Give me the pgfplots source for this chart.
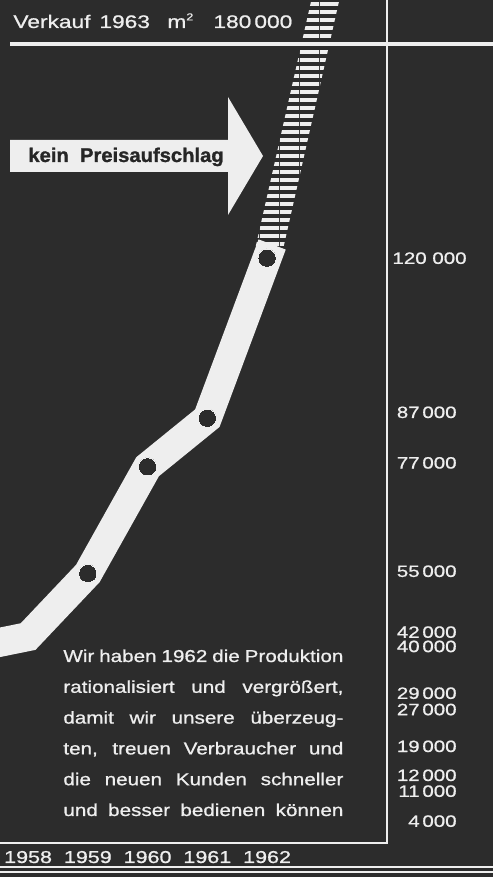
\documentclass[border=0pt]{standalone}
\usepackage{fontspec}
\setmainfont{Liberation Sans}[FakeStretch=1.25, FakeBold=0.9]
\newfontfamily\bodyfont{Liberation Sans}[FakeStretch=1.2, FakeBold=0.9]
\newfontfamily\arrowfont{Liberation Sans Bold}[FakeStretch=1.02, FakeBold=1.2]
\usepackage{pgfplots}
\pgfplotsset{compat=1.18}
\usetikzlibrary{patterns}
\definecolor{bgdark}{RGB}{44,44,44}
\definecolor{ink}{RGB}{238,238,238}

\pgfdeclarepatternformonly{hstripes}{\pgfpoint{0pt}{0pt}}{\pgfpoint{10pt}{3.75pt}}{\pgfpoint{10pt}{3.75pt}}{%
  \pgfpathrectangle{\pgfpoint{0pt}{0pt}}{\pgfpoint{10pt}{2.1pt}}\pgfusepath{fill}}

\begin{document}
\begin{tikzpicture}
\begin{axis}[
  at={(0,0)}, anchor=south west,
  width=246.5pt, height=438.5pt, scale only axis,
  xmin=1957.53, xmax=1965.781,
  ymin=-7539, ymax=173175,
  scaled y ticks=false, scaled x ticks=false,
  axis background/.style={fill=bgdark},
  axis line style={draw=none},
  major tick style={draw=none}, minor tick style={draw=none},
  xtick={1958,1959,1960,1961,1962},
  xticklabels={1958,1959,1960,1961,1962},
  xticklabel style={anchor=base, inner sep=0pt, yshift=7pt, text=ink, font=\fontsize{8.6}{9}\selectfont},
  ytick={4000,11000,12000,19000,27000,29000,40000,42000,55000,77000,87000,120000},
  yticklabels={4\,000, \raisebox{-2pt}{11\,000}, \raisebox{3.5pt}{12\,000}, \raisebox{1pt}{19\,000}, 27\,000, \raisebox{3.3pt}{29\,000}, 40\,000, \raisebox{2.3pt}{42\,000}, \raisebox{1.2pt}{55\,000}, \raisebox{2pt}{77\,000}, \raisebox{3pt}{87\,000}, 120 000\hspace*{-5pt}},
  yticklabel style={anchor=base east, inner sep=0pt, xshift=228.5pt, yshift=-2.9pt, text=ink, font=\fontsize{8.2}{9}\selectfont},
  clip=true,
]
\addplot[draw=none, pattern=hstripes, pattern color=ink] coordinates {(1961.766,120000) (1962.866,180000) (1963.334,180000) (1962.234,120000)} -- cycle;
\addplot[ink, line width=14.5pt, line join=miter, line cap=rect, mark=*, mark indices={2,3,4,5,6}, mark size=4.6pt, mark options={draw=none, fill=bgdark, line width=0pt}] coordinates {(1957,39500) (1958,42000) (1959,55000) (1960,77000) (1961,87000) (1962,120000)};
\end{axis}
\begin{scope}[x=0.5pt,y=-0.5pt,shift={(0pt,438.5pt)}]
  \draw[ink, line width=2pt] (10,44) -- (493,44);
  \draw[ink, line width=1pt] (387,0) -- (387,843) -- (0,843);
  \draw[ink, line width=1pt] (0,867) -- (493,867);
  \draw[ink, line width=0.6pt] (0,872) -- (493,872);
  \fill[ink] (10,140) -- (228,140) -- (228,97) -- (263,156) -- (228,215) -- (228,172) -- (10,172) -- cycle;
  \node[anchor=base west, inner sep=0pt, text=black!85, font=\arrowfont\fontsize{9.9}{10}\selectfont] at (28,162) {kein\ \ Preisaufschlag};
  \node[anchor=base west, inner sep=0pt, text=ink, font=\fontsize{9.1}{10}\selectfont] at (13,28) {Verkauf};
  \node[anchor=base west, inner sep=0pt, text=ink, font=\fontsize{9.1}{10}\selectfont] at (99,28) {1963};
  \node[anchor=base west, inner sep=0pt, text=ink, font=\fontsize{9.1}{10}\selectfont] at (167,28) {m\textsuperscript{\tiny 2}};
  \node[anchor=base west, inner sep=0pt, text=ink, font=\fontsize{9.1}{10}\selectfont] at (213,28) {180\,000};
  \node[anchor=base west, inner sep=0pt, align=left, text=ink, font=\bodyfont\fontsize{8.6}{15.4}\selectfont] at (63,816) {%
    \makebox[140pt][s]{Wir haben 1962 die Produktion}\\
    \makebox[140pt][s]{rationalisiert und vergrößert,}\\
    \makebox[140pt][s]{damit wir unsere überzeug-}\\
    \makebox[140pt][s]{ten, treuen Verbraucher und}\\
    \makebox[140pt][s]{die neuen Kunden schneller}\\
    \makebox[140pt][s]{und besser bedienen können}};
\end{scope}
\pgfresetboundingbox
\path (0,0) rectangle (246.5pt,438.5pt);
\end{tikzpicture}
\end{document}
